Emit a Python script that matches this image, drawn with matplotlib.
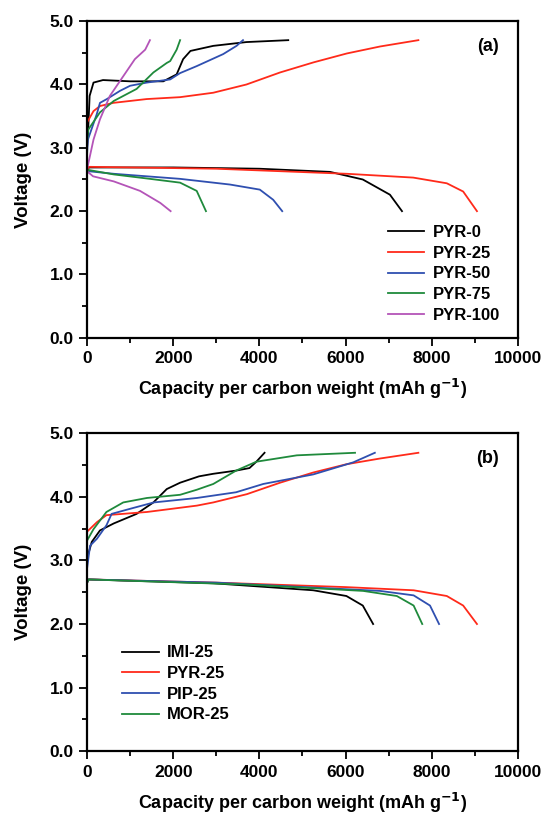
import matplotlib.pyplot as plt
from matplotlib.ticker import MultipleLocator

plt.rcParams['font.family'] = ['Liberation Sans', 'DejaVu Sans']
plt.rcParams['font.weight'] = 'bold'

# ---- panel (a): PYR series (charge / discharge) ----
pyr0_chg_x = [0, 20, 60, 150, 370, 1000, 1770, 2080, 2230, 2400, 2930, 3700, 4670]
pyr0_chg_y = [3.0, 3.18, 3.82, 4.03, 4.07, 4.05, 4.05, 4.16, 4.40, 4.53, 4.61, 4.67, 4.70]
pyr0_dis_x = [0, 40, 2000, 4000, 5640, 6400, 7030, 7310]
pyr0_dis_y = [2.62, 2.69, 2.69, 2.67, 2.62, 2.50, 2.26, 2.0]

pyr25_chg_x = [0, 150, 300, 610, 1385, 2160, 2930, 3700, 4480, 5260, 6030, 6800, 7690]
pyr25_chg_y = [3.40, 3.58, 3.66, 3.71, 3.77, 3.80, 3.87, 4.0, 4.19, 4.35, 4.49, 4.60, 4.70]
pyr25_dis_x = [0, 40, 3000, 6030, 7570, 8350, 8730, 9050]
pyr25_dis_y = [2.64, 2.70, 2.67, 2.59, 2.53, 2.44, 2.31, 2.0]

pyr50_chg_x = [0, 20, 225, 300, 460, 766, 1000, 1385, 1930, 2160, 2545, 3160, 3470, 3620]
pyr50_chg_y = [2.9, 3.13, 3.53, 3.71, 3.77, 3.90, 3.98, 4.03, 4.08, 4.18, 4.29, 4.48, 4.61, 4.70]
pyr50_dis_x = [0, 40, 620, 2160, 3320, 4010, 4320, 4530]
pyr50_dis_y = [2.6, 2.63, 2.59, 2.51, 2.42, 2.34, 2.18, 2.0]

pyr75_chg_x = [0, 30, 300, 620, 1150, 1540, 1850, 1930, 2080, 2160]
pyr75_chg_y = [3.1, 3.29, 3.56, 3.74, 3.93, 4.19, 4.34, 4.37, 4.55, 4.70]
pyr75_dis_x = [0, 40, 620, 1460, 2160, 2545, 2760]
pyr75_dis_y = [2.6, 2.65, 2.58, 2.51, 2.45, 2.32, 2.0]

pyr100_chg_x = [0, 150, 300, 530, 840, 1110, 1350, 1460]
pyr100_chg_y = [2.66, 3.13, 3.45, 3.82, 4.13, 4.40, 4.55, 4.70]
pyr100_dis_x = [0, 140, 620, 1230, 1700, 1940]
pyr100_dis_y = [2.63, 2.55, 2.47, 2.32, 2.13, 2.0]

# ---- panel (b): 25 % series ----
imi_chg_x = [0, 110, 300, 620, 1150, 1540, 1850, 2160, 2600, 2930, 3460, 3770, 3930, 4120]
imi_chg_y = [3.03, 3.29, 3.47, 3.58, 3.73, 3.91, 4.12, 4.22, 4.32, 4.36, 4.41, 4.45, 4.55, 4.69]
imi_dis_x = [0, 40, 2930, 5250, 6020, 6400, 6640]
imi_dis_y = [2.65, 2.70, 2.64, 2.53, 2.44, 2.29, 2.0]

pyr_chg_x = [0, 230, 450, 1390, 2550, 2930, 3710, 4480, 5250, 6020, 6800, 7690]
pyr_chg_y = [3.45, 3.60, 3.71, 3.76, 3.86, 3.91, 4.04, 4.22, 4.38, 4.51, 4.60, 4.69]
pyr_dis_x = [0, 40, 3000, 6000, 7580, 8350, 8730, 9050]
pyr_dis_y = [2.65, 2.70, 2.65, 2.58, 2.53, 2.44, 2.29, 2.0]

pip_chg_x = [0, 70, 230, 450, 570, 1000, 1550, 2550, 3460, 4090, 5250, 6180, 6680]
pip_chg_y = [2.87, 3.23, 3.34, 3.55, 3.73, 3.81, 3.91, 3.98, 4.07, 4.20, 4.35, 4.54, 4.69]
pip_dis_x = [0, 40, 3000, 6800, 7580, 7960, 8170]
pip_dis_y = [2.65, 2.70, 2.65, 2.52, 2.45, 2.29, 2.0]

mor_chg_x = [0, 150, 450, 840, 1390, 2160, 2550, 2930, 3460, 3930, 4870, 6220]
mor_chg_y = [3.31, 3.49, 3.76, 3.91, 3.98, 4.03, 4.11, 4.20, 4.41, 4.55, 4.65, 4.69]
mor_dis_x = [0, 40, 3700, 6410, 7190, 7580, 7780]
mor_dis_y = [2.65, 2.70, 2.62, 2.52, 2.44, 2.29, 2.0]

labels_a = ['PYR-0', 'PYR-25', 'PYR-50', 'PYR-75', 'PYR-100']
labels_b = ['IMI-25', 'PYR-25', 'PIP-25', 'MOR-25']
colors_a = ['black', '#ff2a1a', '#2f4fb0', '#1f8a3c', '#b454b8']
colors_b = ['black', '#ff2a1a', '#2f4fb0', '#1f8a3c']

fig = plt.figure(figsize=(5.44, 8.14), dpi=100)
ax1 = fig.add_axes([0.16, 0.585, 0.792, 0.389])
ax2 = fig.add_axes([0.16, 0.077, 0.792, 0.391])

series_a = [(pyr0_chg_x, pyr0_chg_y, pyr0_dis_x, pyr0_dis_y),
            (pyr25_chg_x, pyr25_chg_y, pyr25_dis_x, pyr25_dis_y),
            (pyr50_chg_x, pyr50_chg_y, pyr50_dis_x, pyr50_dis_y),
            (pyr75_chg_x, pyr75_chg_y, pyr75_dis_x, pyr75_dis_y),
            (pyr100_chg_x, pyr100_chg_y, pyr100_dis_x, pyr100_dis_y)]
series_b = [(imi_chg_x, imi_chg_y, imi_dis_x, imi_dis_y),
            (pyr_chg_x, pyr_chg_y, pyr_dis_x, pyr_dis_y),
            (pip_chg_x, pip_chg_y, pip_dis_x, pip_dis_y),
            (mor_chg_x, mor_chg_y, mor_dis_x, mor_dis_y)]

for ax, series, labels, colors, tag, anchor in [
        (ax1, series_a, labels_a, colors_a, '(a)', (0.698, 0.356)),
        (ax2, series_b, labels_b, colors_b, '(b)', (0.081, 0.333))]:
    for (cx, cy, dx, dy), lab, col in zip(series, labels, colors):
        ax.plot(cx, cy, color=col, lw=1.3, label=lab)
        ax.plot(dx, dy, color=col, lw=1.3)
    ax.set_xlim(0, 10000)
    ax.set_ylim(0, 5)
    ax.xaxis.set_major_locator(MultipleLocator(2000))
    ax.xaxis.set_minor_locator(MultipleLocator(1000))
    ax.yaxis.set_major_locator(MultipleLocator(1.0))
    ax.yaxis.set_minor_locator(MultipleLocator(0.5))
    ax.yaxis.set_major_formatter(plt.FormatStrFormatter('%.1f'))
    ax.tick_params(which='major', direction='out', length=6, width=1.3, labelsize=12.5)
    ax.tick_params(which='minor', direction='out', length=3.5, width=1.3)
    for s in ax.spines.values():
        s.set_linewidth(1.6)
    for t in ax.get_xticklabels() + ax.get_yticklabels():
        t.set_fontweight('bold')
    ax.set_xlabel('Capacity per carbon weight (mAh g$^{\\mathbf{-1}}$)', fontsize=13,
                  fontweight='bold', labelpad=8)
    ax.set_ylabel('Voltage (V)', fontsize=13.5, fontweight='bold', labelpad=13)
    ax.text(0.955, 0.92, tag, transform=ax.transAxes, ha='right', va='center',
            fontsize=13, fontweight='bold')
    ax.legend(loc='upper left', bbox_to_anchor=anchor, frameon=False,
              handlelength=2.2, handletextpad=0.5, labelspacing=0.34,
              borderpad=0, borderaxespad=0, prop={'weight': 'bold', 'size': 12})

fig.savefig('out.png', dpi=100)
